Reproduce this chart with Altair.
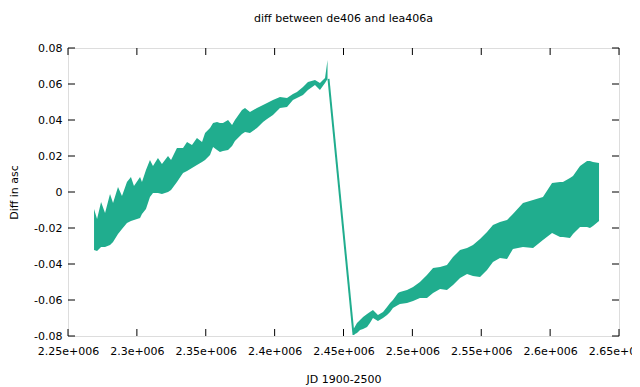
import altair as alt
import pandas as pd

# ---- data (JD, difference in arcsec) ----
left_jd = [2268900, 2271100, 2274000, 2276900, 2280500, 2282700, 2286300, 2289200,
           2292800, 2295700, 2297900, 2302300, 2303700, 2306600, 2309500, 2311700,
           2315300, 2318200, 2322600, 2324800, 2329100, 2333500, 2336400, 2340000,
           2343600, 2347300, 2349500, 2353100, 2355300, 2358200, 2360300, 2362500,
           2366200, 2369100, 2371200, 2376300, 2378500, 2382100, 2387200, 2391600,
           2394500, 2398800, 2403900, 2409000, 2413300, 2416200, 2420600, 2424200,
           2429300, 2432900, 2436600, 2438400]
left_hi = [-0.0094, -0.0150, -0.0056, -0.0117, -0.0011, -0.0061, 0.0028, -0.0022,
           0.0056, 0.0083, 0.0033, 0.0083, 0.0056, 0.0122, 0.0178, 0.0144,
           0.0189, 0.0156, 0.0200, 0.0178, 0.0244, 0.0244, 0.0278, 0.0261,
           0.0300, 0.0278, 0.0328, 0.0356, 0.0383, 0.0389, 0.0383, 0.0383,
           0.0400, 0.0372, 0.0400, 0.0456, 0.0467, 0.0444, 0.0467, 0.0483,
           0.0494, 0.0511, 0.0528, 0.0522, 0.0544, 0.0556, 0.0583, 0.0611,
           0.0622, 0.0606, 0.0633, 0.0733]
left_lo = [-0.0322, -0.0328, -0.0306, -0.0306, -0.0294, -0.0278, -0.0233, -0.0206,
           -0.0172, -0.0161, -0.0156, -0.0144, -0.0122, -0.0094, -0.0028, -0.0006,
           -0.0006, -0.0011, 0.0000, 0.0011, 0.0056, 0.0106, 0.0117, 0.0133,
           0.0150, 0.0167, 0.0178, 0.0206, 0.0250, 0.0233, 0.0222, 0.0228,
           0.0233, 0.0256, 0.0283, 0.0322, 0.0333, 0.0328, 0.0356, 0.0389,
           0.0406, 0.0428, 0.0467, 0.0472, 0.0511, 0.0522, 0.0539, 0.0567,
           0.0594, 0.0567, 0.0606, 0.0628]

right_jd = [2456900, 2459800, 2462000, 2464200, 2467100, 2469200, 2471400, 2475000,
            2478700, 2481600, 2483800, 2485900, 2489600, 2491000, 2496100, 2500500,
            2505500, 2510600, 2515000, 2520100, 2525100, 2529500, 2534600, 2539700,
            2544000, 2549100, 2554200, 2558500, 2563600, 2568700, 2573000, 2580300,
            2587600, 2594800, 2601400, 2607200, 2609300, 2614400, 2616600, 2621700,
            2626800, 2628900, 2631100, 2635500]
right_hi = [-0.0767, -0.0728, -0.0711, -0.0694, -0.0678, -0.0667, -0.0656, -0.0683,
            -0.0667, -0.0639, -0.0617, -0.0600, -0.0561, -0.0556, -0.0544, -0.0528,
            -0.0500, -0.0461, -0.0422, -0.0417, -0.0406, -0.0361, -0.0322, -0.0311,
            -0.0294, -0.0261, -0.0222, -0.0183, -0.0167, -0.0156, -0.0122, -0.0061,
            -0.0044, -0.0028, 0.0050, 0.0056, 0.0056, 0.0078, 0.0089, 0.0144,
            0.0172, 0.0172, 0.0167, 0.0161]
right_lo = [-0.0794, -0.0783, -0.0767, -0.0761, -0.0750, -0.0728, -0.0700, -0.0717,
            -0.0700, -0.0683, -0.0667, -0.0644, -0.0628, -0.0622, -0.0617, -0.0606,
            -0.0589, -0.0589, -0.0561, -0.0539, -0.0544, -0.0517, -0.0478, -0.0456,
            -0.0467, -0.0472, -0.0433, -0.0389, -0.0367, -0.0372, -0.0317, -0.0306,
            -0.0311, -0.0267, -0.0228, -0.0250, -0.0250, -0.0256, -0.0233, -0.0194,
            -0.0194, -0.0200, -0.0189, -0.0161]

jump_jd = [2439100, 2457300]
jump_val = [0.0628, -0.0794]

x_ticks = [2250000, 2300000, 2350000, 2400000, 2450000, 2500000, 2550000, 2600000, 2650000]
y_ticks = [-0.08, -0.06, -0.04, -0.02, 0.0, 0.02, 0.04, 0.06, 0.08]

COLOR = "#20ad8e"
FONT = "DejaVu Sans"
W, H = 551, 288

band = pd.DataFrame({
    "jd": left_jd + right_jd,
    "hi": left_hi + right_hi,
    "lo": left_lo + right_lo,
    "seg": ["a"] * len(left_jd) + ["b"] * len(right_jd),
})
jump = pd.DataFrame({"jd": jump_jd, "lo": jump_val})
xt = pd.DataFrame({"jd": x_ticks})
yt = pd.DataFrame({"lo": y_ticks})

xs = alt.Scale(domain=[2250000, 2650000], nice=False, zero=False)
ys = alt.Scale(domain=[-0.08, 0.08], nice=False, zero=False)

x_axis = alt.Axis(
    values=x_ticks, grid=False, domain=False, ticks=False, tickSize=0,
    labelOverlap=False, labelFlush=False,
    labelPadding=9, labelFontSize=11, labelFont=FONT, labelColor="black",
    labelExpr="format(datum.value / 1000000, '~g') + 'e+006'",
    title="JD 1900-2500", titleFont=FONT, titleFontSize=11, titleFontWeight="normal",
    titleColor="black", titleX=W / 2, titleY=43, titleBaseline="middle", titleAlign="center",
)
y_axis = alt.Axis(
    values=y_ticks, grid=False, domain=False, ticks=False, tickSize=0,
    labelOverlap=False, labelFlush=False,
    labelPadding=6, labelFontSize=11, labelFont=FONT, labelColor="black",
    labelExpr="datum.value < 0 ? '-' + format(-datum.value, '~g') : format(datum.value, '~g')",
    title="Diff in asc", titleFont=FONT, titleFontSize=11, titleFontWeight="normal",
    titleColor="black", titleX=-54, titleY=H / 2, titleAngle=270,
    titleBaseline="middle", titleAlign="center",
)

X = alt.X("jd:Q", scale=xs, axis=x_axis, title="JD 1900-2500")
Y = alt.Y("lo:Q", scale=ys, axis=y_axis, title="Diff in asc")

area = alt.Chart(band).mark_area(color=COLOR, opacity=1, interpolate="linear").encode(
    x=X, y=Y, y2="hi:Q", detail="seg:N",
)

jline = alt.Chart(jump).mark_line(color=COLOR, strokeWidth=2).encode(x=X, y=Y)

tick_len = 7
xb = alt.Chart(xt).mark_rule(color="black", strokeWidth=1).encode(
    x=X, y=alt.value(H), y2=alt.value(H - tick_len))
xtp = alt.Chart(xt).mark_rule(color="black", strokeWidth=1).encode(
    x=X, y=alt.value(0), y2=alt.value(tick_len))
yl = alt.Chart(yt).mark_rule(color="black", strokeWidth=1).encode(
    y=Y, x=alt.value(0), x2=alt.value(tick_len))
yr = alt.Chart(yt).mark_rule(color="black", strokeWidth=1).encode(
    y=Y, x=alt.value(W), x2=alt.value(W - tick_len))

chart = alt.layer(area, jline, xb, xtp, yl, yr).properties(
    width=W, height=H,
    title=alt.TitleParams("diff between de406 and lea406a", font=FONT, fontSize=11,
                          fontWeight="normal", color="black", anchor="middle", offset=18),
    autosize=alt.AutoSizeParams(type="none"),
    padding={"left": 60, "top": 40, "right": 13, "bottom": 55},
).configure_view(stroke="black", strokeWidth=1).configure(background="white")

chart.save("out.html", embed_options={"renderer": "svg", "actions": False})
